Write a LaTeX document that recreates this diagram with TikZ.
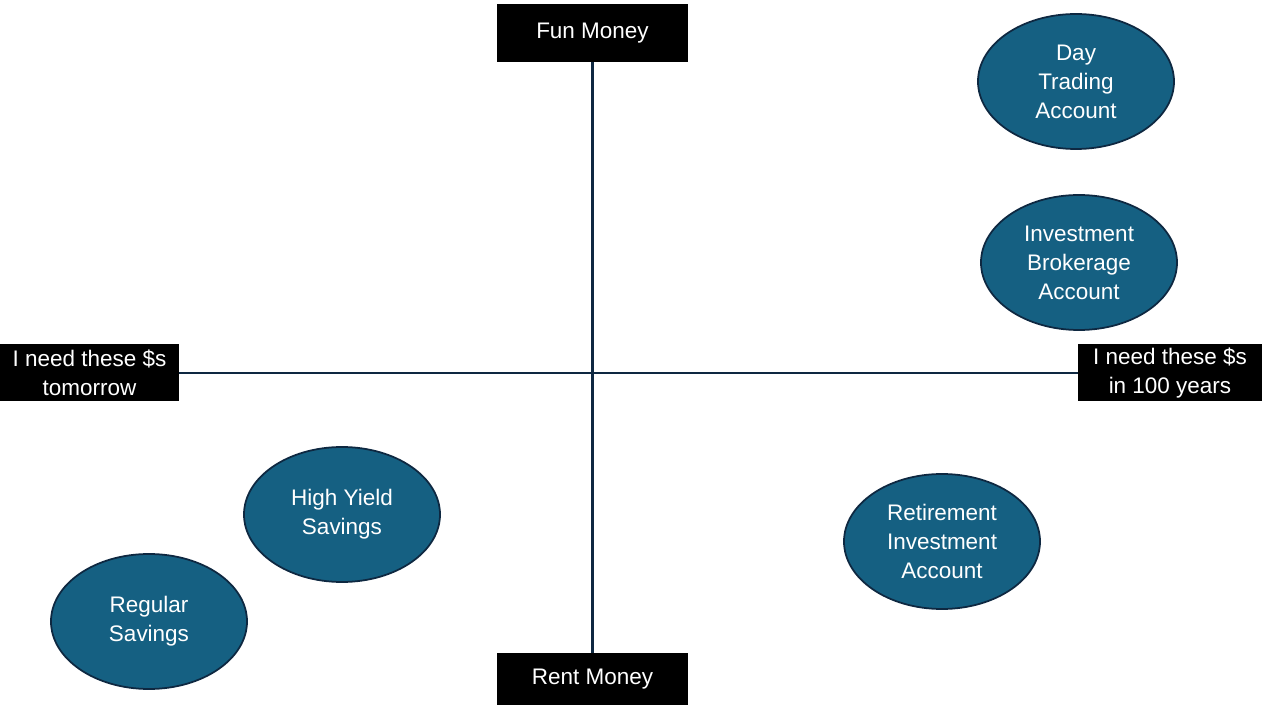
\documentclass[tikz,border=0pt]{standalone}
\usepackage{fontspec}
\setmainfont{Liberation Sans}
\usetikzlibrary{positioning}
\usetikzlibrary{shapes, shapes.geometric}

\definecolor{acctblue}{HTML}{156082}
\definecolor{darknavy}{HTML}{0E2841}

\begin{document}
\begin{tikzpicture}[x=0.02cm, y=-0.02cm,
  every node/.style={align=center, text=white, font=\fontsize{12.8}{16.5}\selectfont},
  label box/.style={rectangle, fill=black, inner sep=0pt},
  account/.style={ellipse, draw=darknavy, line width=1pt, fill=acctblue, minimum width=196*0.02cm, minimum height=135*0.02cm, inner sep=0pt}]

\useasboundingbox (0,0) rectangle (1262,705);

\node[label box, minimum width=191*0.02cm, minimum height=58*0.02cm] (fun) at (592.5,33) {Fun Money};
\node[label box, minimum width=191*0.02cm, minimum height=52*0.02cm] (rent) at (592.5,679) {Rent Money};
\node[label box, minimum width=179*0.02cm, minimum height=57*0.02cm] (tomorrow) at (89.5,373) {I need these \$s\\tomorrow};
\node[label box, minimum width=184*0.02cm, minimum height=57*0.02cm] (years) at (1170,373) {I need these \$s\\in 100 years};

\draw[darknavy, line width=1.2pt] (fun.south) -- (rent.north);
\draw[darknavy, line width=1.2pt] (tomorrow.east) -- (years.west);

\node[account] (daytrading) at (1076,81.5) {Day\\Trading\\Account};
\node[account] (brokerage) at (1079,262.5) {Investment\\Brokerage\\Account};
\node[account] (retirement) at (942,541.5) {Retirement\\Investment\\Account};
\node[account] (highyield) at (342,514.5) {High Yield\\Savings};
\node[account] (regular) at (149,621.5) {Regular\\Savings};

\end{tikzpicture}
\end{document}
